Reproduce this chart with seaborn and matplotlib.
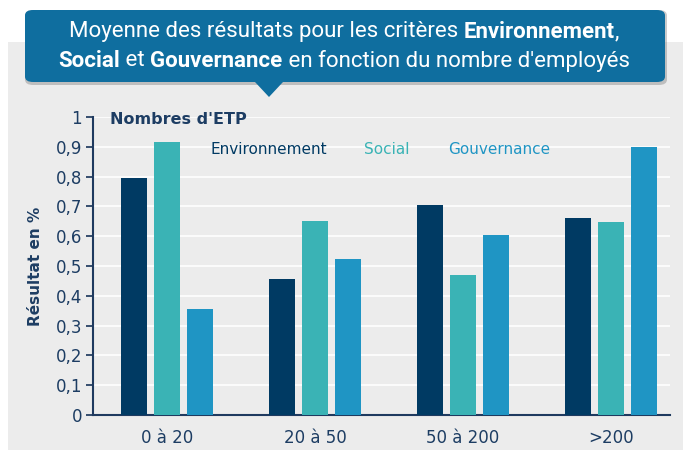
import matplotlib
matplotlib.use("Agg")
import matplotlib.pyplot as plt
from matplotlib.patches import FancyBboxPatch, Rectangle, Polygon
import pandas as pd
import seaborn as sns

# Données
categories = ["0 à 20", "20 à 50", "50 à 200", ">200"]
environnement = [0.795, 0.455, 0.705, 0.66]
social = [0.915, 0.65, 0.47, 0.648]
gouvernance = [0.355, 0.525, 0.605, 0.90]
criteres = ["Environnement", "Social", "Gouvernance"]
yticks = [0, 0.1, 0.2, 0.3, 0.4, 0.5, 0.6, 0.7, 0.8, 0.9, 1]
ytick_labels = ["0", "0,1", "0,2", "0,3", "0,4", "0,5", "0,6", "0,7", "0,8", "0,9", "1"]
titre = [
    [("Moyenne des résultats pour les critères ", "normal"), ("Environnement", "bold"), (",", "normal")],
    [("Social", "bold"), (" et ", "normal"), ("Gouvernance", "bold"), (" en fonction du nombre d'employés", "normal")],
]

couleurs = ["#003a63", "#3ab3b5", "#1f95c4"]
texte = "#1d3d63"

df = pd.DataFrame({
    "Tranche": categories * 3,
    "Critère": [c for c in criteres for _ in categories],
    "Valeur": environnement + social + gouvernance,
})

sns.set_theme(style="white")
plt.rcParams["font.family"] = ["DejaVu Sans"]

fig = plt.figure(figsize=(6.83, 4.5), dpi=100)
fig.patch.set_facecolor("white")

# Panneau gris de fond
fig.add_artist(Rectangle((8 / 683, 0), 1, 1 - 42 / 450, transform=fig.transFigure,
                         facecolor="#ececec", edgecolor="none", zorder=0))

ax = fig.add_axes([93 / 683, 35 / 450, (670 - 93) / 683, (415 - 117) / 450])
ax.set_facecolor("#ececec")
sns.barplot(data=df, x="Tranche", y="Valeur", hue="Critère", palette=couleurs,
            width=0.67, gap=0.21, ax=ax, legend=False, saturation=1, linewidth=0, zorder=3)

ax.set_ylim(0, 1)
ax.set_xlim(-0.5, 3.4)
ax.set_yticks(yticks)
ax.set_yticklabels(ytick_labels)
ax.yaxis.grid(True, color="white", linewidth=1.2, zorder=0)
ax.set_axisbelow(True)
for s in ["top", "right"]:
    ax.spines[s].set_visible(False)
for s in ["left", "bottom"]:
    ax.spines[s].set_color("#1f3a5f")
    ax.spines[s].set_linewidth(1.5)
ax.tick_params(axis="y", left=True, length=5, color="#1f3a5f", labelsize=12, labelcolor=texte, pad=3)
ax.tick_params(axis="x", bottom=False, labelsize=12, labelcolor=texte, pad=4)
ax.set_xlabel("")
ax.set_ylabel("Résultat en %", fontsize=11, fontweight="bold", color=texte, labelpad=9)

# Légende en texte
fig.text(110 / 683, 1 - 119 / 450, "Nombres d'ETP", fontsize=11.5, fontweight="bold", color=texte, va="center")
for nom, x, c in zip(criteres, [210, 364, 448], couleurs):
    fig.text(x / 683, 1 - 150 / 450, nom, fontsize=11, color=c, va="center")

# Boîte du titre
fig.add_artist(FancyBboxPatch((25 / 683, 1 - 85 / 450), (667 - 25) / 683, 75 / 450,
                              boxstyle="round,pad=0,rounding_size=0.012", transform=fig.transFigure,
                              facecolor="#555555", edgecolor="none", alpha=0.3, zorder=4))
fig.add_artist(FancyBboxPatch((25 / 683, 1 - 82 / 450), (665 - 25) / 683, 72 / 450,
                              boxstyle="round,pad=0,rounding_size=0.012", transform=fig.transFigure,
                              facecolor="#0f6e9f", edgecolor="none", zorder=5))
fig.add_artist(Polygon([(255 / 683, 1 - 82 / 450), (283 / 683, 1 - 82 / 450), (269 / 683, 1 - 97 / 450)],
                       transform=fig.transFigure, facecolor="#0f6e9f", edgecolor="none", zorder=5))

# Titre en morceaux (normal / gras), centré ligne par ligne
renderer = fig.canvas.get_renderer()
taille = 16.0
for ligne, y in zip(titre, [32, 61]):
    morceaux = []
    for t, w in ligne:
        txt = fig.text(0, 1 - y / 450, t, fontsize=taille, fontweight=w, color="white",
                       family=["Roboto", "DejaVu Sans"], va="center", ha="left", zorder=6)
        morceaux.append(txt)
    largeurs = [m.get_window_extent(renderer).width for m in morceaux]
    x = 344 - sum(largeurs) / 2
    for m, l in zip(morceaux, largeurs):
        m.set_x(x / 683)
        x += l

fig.savefig("out.png", dpi=100)
